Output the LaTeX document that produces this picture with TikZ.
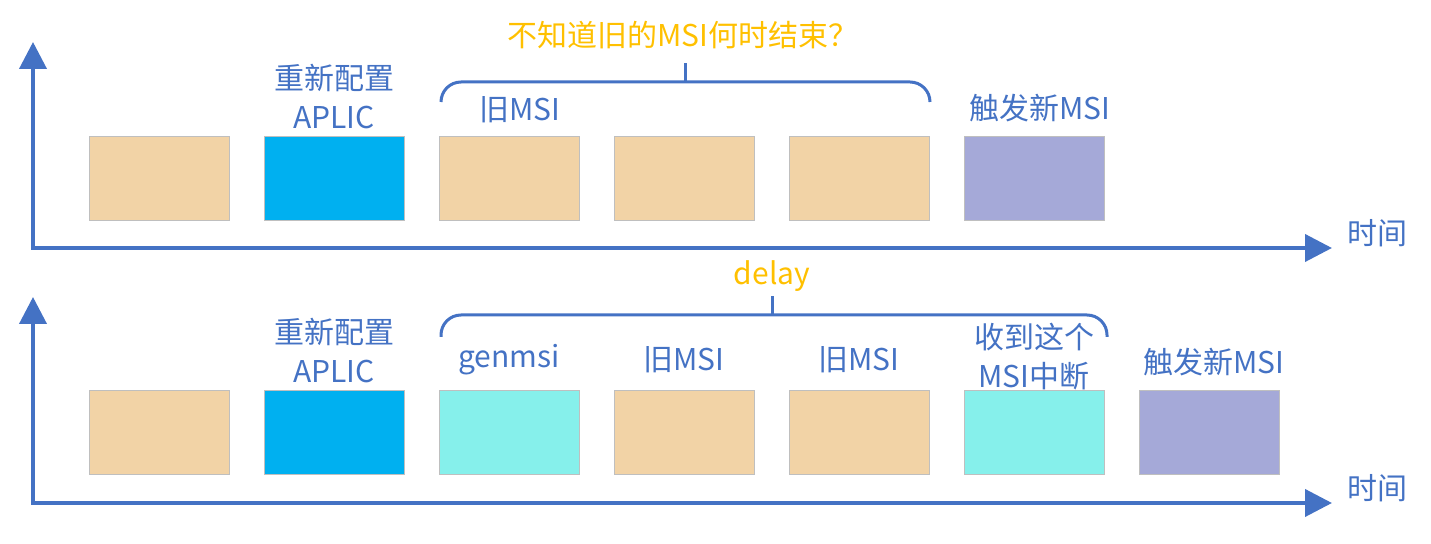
\documentclass[tikz,border=0pt]{standalone}
\usepackage{fontspec}
\setmainfont{Noto Sans CJK SC}
\usetikzlibrary{arrows.meta}
\definecolor{axisblue}{HTML}{4472C4}
\definecolor{msitan}{HTML}{F2D3A6}
\definecolor{aplicblue}{HTML}{00B0F0}
\definecolor{gencyan}{HTML}{86F0EB}
\definecolor{newpurple}{HTML}{A5A9D8}
\definecolor{notegold}{HTML}{FFC000}
\tikzset{
  slot/.style={draw=black!25, line width=0.5pt, minimum width=70pt,
    minimum height=42pt, inner sep=0pt},
  axis/.style={draw=axisblue, line width=2pt,
    {Triangle[length=13.5pt,width=13.5pt]}-{Triangle[length=13.5pt,width=13.5pt]}},
  lbl/.style={text=axisblue, font=\fontsize{15pt}{19.5pt}\selectfont,
    align=center, inner sep=0pt},
  note/.style={text=notegold, font=\fontsize{15pt}{19.5pt}\selectfont, inner sep=0pt},
  brace/.style={draw=axisblue, line width=1.5pt, rounded corners=10pt},
}
\begin{document}
\begin{tikzpicture}[x=0.5pt,y=-0.5pt]
          \useasboundingbox (0,0) rectangle (1431,544);

          % upper timeline
          \coordinate (up1) at (33,42);
          \coordinate (end1) at (1332,248);
          \draw[axis] (up1) |- (end1);
          \node[lbl] (time1) at (1377,233) {时间};

          \node[slot,fill=msitan]    (a1) at (159,179) {};
          \node[slot,fill=aplicblue] (a2) at (334,179) {};
          \node[slot,fill=msitan]    (a3) at (509,179) {};
          \node[slot,fill=msitan]    (a4) at (684,179) {};
          \node[slot,fill=msitan]    (a5) at (859,179) {};
          \node[slot,fill=newpurple] (a6) at (1034,179) {};

          \node[lbl] (cfg1) at (334,97) {重新配置\\APLIC};
          \node[lbl] (old1) at (520,110) {旧MSI};
          \node[lbl] (new1) at (1040,108) {触发新MSI};

          \draw[brace] (441,102) |- (685,82) -| (930,102);
          \draw[brace] (685,82) -- (685,63);
          \node[note] (ask) at (683,35) {不知道旧的MSI何时结束？};

          % lower timeline
          \coordinate (up2) at (33,297);
          \coordinate (end2) at (1332,503);
          \draw[axis] (up2) |- (end2);
          \node[lbl] (time2) at (1377,488) {时间};

          \node[slot,fill=msitan]    (b1) at (159,433) {};
          \node[slot,fill=aplicblue] (b2) at (334,433) {};
          \node[slot,fill=gencyan]   (b3) at (509,433) {};
          \node[slot,fill=msitan]    (b4) at (684,433) {};
          \node[slot,fill=msitan]    (b5) at (859,433) {};
          \node[slot,fill=gencyan]   (b6) at (1034,433) {};
          \node[slot,fill=newpurple] (b7) at (1209,433) {};

          \node[lbl] (cfg2) at (334,351) {重新配置\\APLIC};
          \node[lbl] (gen2) at (509,360) {genmsi};
          \node[lbl] (old2) at (684,360) {旧MSI};
          \node[lbl] (old3) at (859,360) {旧MSI};
          \node[lbl] (recv2) at (1034,357) {收到这个\\MSI中断};
          \node[lbl] (new2) at (1214,362) {触发新MSI};

          \draw[brace] (441,337) |- (772,315) -| (1107,337);
          \draw[brace] (772,315) -- (772,296);
          \node[note] (delay) at (772,276) {delay};
      \end{tikzpicture}
\end{document}
